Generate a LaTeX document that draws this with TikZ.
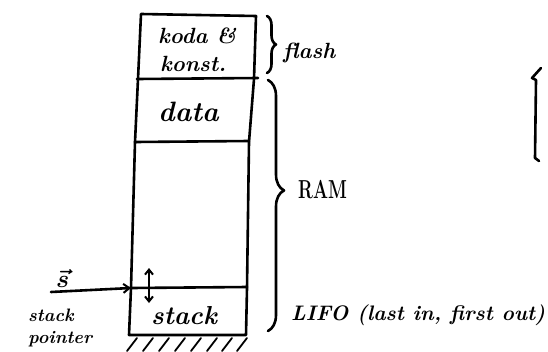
\documentclass[tikz,border=0pt]{standalone}
\usetikzlibrary{arrows.meta,decorations.pathreplacing}
\begin{document}
\begin{tikzpicture}[x=1pt,y=-1pt,
  ink/.style={line width=2.6pt,line cap=round,line join=round},
  thin ink/.style={line width=1.8pt,line cap=round},
  hand/.style={inner sep=0pt,anchor=base west},
  boxtext/.style={hand,font=\fontsize{22}{24}\selectfont\bfseries\itshape},
  sidetext/.style={hand,font=\fontsize{22}{24}\selectfont\bfseries\itshape},
  pointertext/.style={hand,font=\fontsize{18}{20}\selectfont\bfseries\itshape},
  bracepath/.style={ink,decorate,decoration={brace,amplitude=#1}},
  tip/.style={-{Straight Barb[length=6pt,width=9pt,line width=2pt]}}
]
\useasboundingbox (0,0) rectangle (548,351);

% memory column: outer edges
\coordinate (tl) at (141,14);
\coordinate (tr) at (256,16);
\coordinate (bl) at (129,335);
\coordinate (br) at (246,335);
\draw[ink] (tr) -- (tl) -- (138,79) -- (135,142) -- (131,288) -- (bl)
           -- (br) -- (247,288) -- (249,142) -- (254,79) -- cycle;

% section dividers
\coordinate (fl) at (137,79);  \coordinate (fr) at (258,78);
\coordinate (dl) at (135,142); \coordinate (dr) at (249,141);
\coordinate (sl) at (131,288); \coordinate (sr) at (247,287);
\draw[ink] (fl) -- (fr);
\draw[ink] (dl) -- (dr);
\draw[ink] (sl) -- (sr);

% ground hatching under the column
\foreach \x in {137,153,169,185,201,217,232,247}
  \draw[thin ink] (\x,338) -- (\x-10,351);

% section labels
\node[boxtext] (koda) at (158,43) {koda \&};
\node[boxtext] (konst) at (160,71) {konst.};
\node[boxtext,font=\fontsize{28}{30}\selectfont\bfseries\itshape] (data) at (158,121) {data};
\node[boxtext,font=\fontsize{26}{28}\selectfont\bfseries\itshape] (stack) at (151,324) {stack};

% stack growth
\coordinate (gu) at (149,268);
\coordinate (gd) at (149,303);
\draw[ink,line width=2pt,{Straight Barb[length=5pt,width=8pt]}-{Straight Barb[length=5pt,width=8pt]}] (gu) -- (gd);

% stack pointer
\coordinate (spstart) at (51,292);
\draw[ink,tip] (spstart) -- (sl);
\node[hand,font=\fontsize{28}{30}\selectfont\boldmath] (svec) at (56,287) {$\vec{s}$};
\node[pointertext] (sptxt1) at (28,321) {stack};
\node[pointertext] (sptxt2) at (28,343) {pointer};

% braces
\coordinate (fb1) at (267,16);  \coordinate (fb2) at (267,73);
\draw[bracepath=9pt] (fb1) -- (fb2);
\node[sidetext] (flash) at (283,58) {flash};

\coordinate (rb1) at (268,80);  \coordinate (rb2) at (268,331);
\draw[ink,decorate,decoration={brace,amplitude=16pt,aspect=0.44}] (rb1) -- (rb2);
\node[hand,font=\fontsize{26}{28}\selectfont\bfseries] (ram) at (298,198) {\scalebox{0.68}[1]{RAM}};
\node[sidetext,font=\fontsize{21}{23}\selectfont\bfseries\itshape] (lifo) at (291,320) {LIFO (last in, first out)};

% bracket at the right margin
\draw[ink] (541,68) -- (532,78) -- (536,80) -- (535,158) -- (539,161);
\end{tikzpicture}
\end{document}
